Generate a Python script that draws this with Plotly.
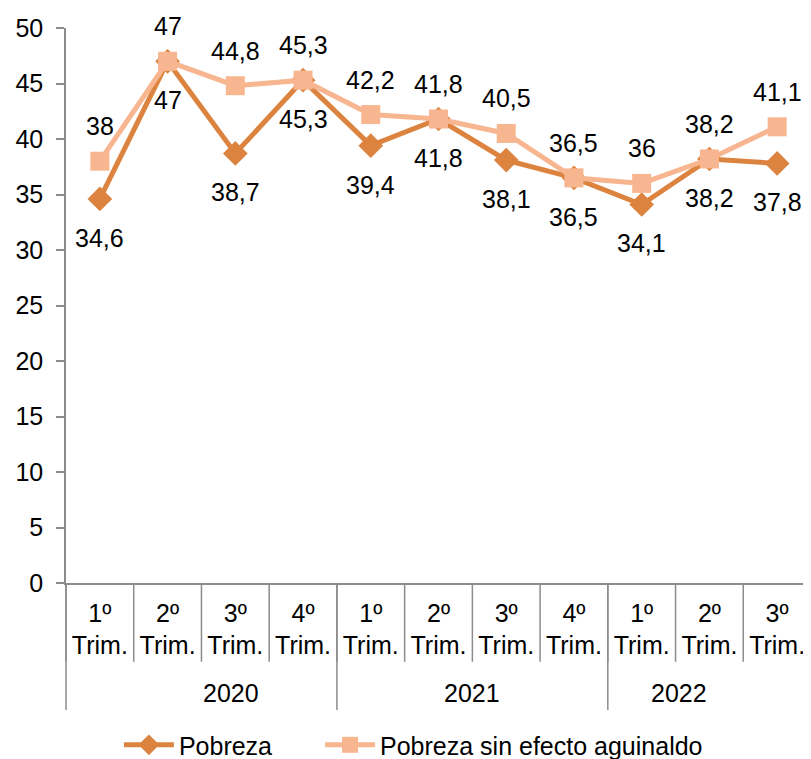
import plotly.graph_objects as go

quarters = ["1º<br>Trim.", "2º<br>Trim.", "3º<br>Trim.", "4º<br>Trim.",
            "1º<br>Trim.", "2º<br>Trim.", "3º<br>Trim.", "4º<br>Trim.",
            "1º<br>Trim.", "2º<br>Trim.", "3º<br>Trim."]
years = ["2020", "2021", "2022"]
year_counts = [4, 4, 3]
pobreza = [34.6, 47, 38.7, 45.3, 39.4, 41.8, 38.1, 36.5, 34.1, 38.2, 37.8]
sin_aguinaldo = [38, 47, 44.8, 45.3, 42.2, 41.8, 40.5, 36.5, 36, 38.2, 41.1]

DARK = "#DC843F"
LIGHT = "#F8B690"
GRAY = "#8C8C8C"
FONT = "Liberation Sans, Arial, sans-serif"
FS = 25

n = len(quarters)
xs = list(range(n))

def fmt(v):
    s = ("%g" % v)
    return s.replace(".", ",")

fig = go.Figure()
fig.add_trace(go.Scatter(
    x=xs, y=pobreza, mode="lines+markers", name="Pobreza", legend="legend",
    line=dict(color=DARK, width=5),
    marker=dict(symbol="diamond", size=19, color=DARK),
))
fig.add_trace(go.Scatter(
    x=xs, y=sin_aguinaldo, mode="lines+markers", name="Pobreza sin efecto aguinaldo",
    legend="legend2",
    line=dict(color=LIGHT, width=5),
    marker=dict(symbol="square", size=19, color=LIGHT),
))

annotations = []
for x, v in zip(xs, pobreza):
    annotations.append(dict(x=x, y=v, xref="x", yref="y", text=fmt(v), showarrow=False,
                            yshift=-39, font=dict(family=FONT, size=FS, color="#000")))
for x, v in zip(xs, sin_aguinaldo):
    annotations.append(dict(x=x, y=v, xref="x", yref="y", text=fmt(v), showarrow=False,
                            yshift=35, font=dict(family=FONT, size=FS, color="#000")))

# year labels and separators
shapes = []
start = 0
for yr, c in zip(years, year_counts):
    annotations.append(dict(x=(start + c / 2) / n, y=-0.198, xref="paper", yref="paper",
                            text=yr, showarrow=False, yanchor="middle",
                            font=dict(family=FONT, size=FS, color="#000")))
    shapes.append(dict(type="line", xref="paper", yref="paper", x0=start / n, x1=start / n,
                       y0=0, y1=-0.229, line=dict(color=GRAY, width=1.5)))
    start += c
shapes.append(dict(type="line", xref="paper", yref="paper", x0=1, x1=1,
                   y0=0, y1=-0.229, line=dict(color=GRAY, width=1.5)))
for k in range(n + 1):
    shapes.append(dict(type="line", xref="paper", yref="paper", x0=k / n, x1=k / n,
                       y0=0, y1=-0.142, line=dict(color=GRAY, width=1.5)))

leg_common = dict(orientation="h", xanchor="left", y=-0.292, yanchor="middle",
                  font=dict(family=FONT, size=FS), itemwidth=50,
                  bgcolor="rgba(0,0,0,0)")

fig.update_layout(
    width=803, height=751,
    margin=dict(l=58, r=0, t=20, b=176, autoexpand=False),
    paper_bgcolor="white", plot_bgcolor="white",
    font=dict(family=FONT, size=FS, color="#000"),
    showlegend=True,
    legend=dict(x=0.071, **leg_common),
    legend2=dict(x=0.341, **leg_common),
    annotations=annotations,
    shapes=shapes,
    xaxis=dict(range=[-0.5, n - 0.5], tickvals=xs, ticktext=quarters, ticks="",
               tickangle=0, automargin=False,
               showline=True, linecolor=GRAY, linewidth=1.5, showgrid=False,
               zeroline=False, tickfont=dict(family=FONT, size=FS), ticklabelstandoff=7),
    yaxis=dict(range=[0, 50], dtick=5, ticks="outside", ticklen=8, tickcolor=GRAY,
               tickwidth=1.5, showline=True, linecolor=GRAY, linewidth=1.5, automargin=False,
               showgrid=False, zeroline=False, tickfont=dict(family=FONT, size=FS),
               ticklabelstandoff=8),
)

fig.write_html("out.html")
